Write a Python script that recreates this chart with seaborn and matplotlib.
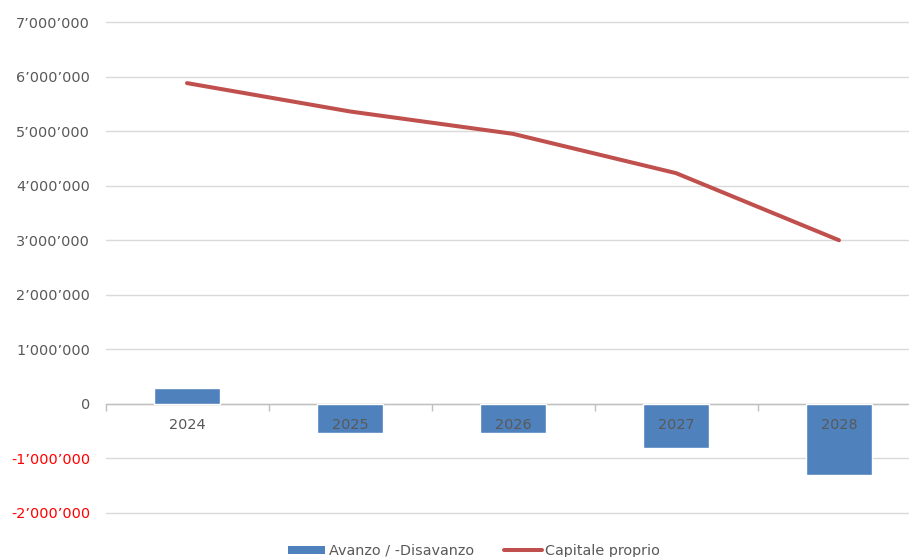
import numpy as np
import pandas as pd
import matplotlib
matplotlib.use("Agg")
import matplotlib.pyplot as plt
import seaborn as sns
from matplotlib.ticker import FuncFormatter, FixedLocator, MultipleLocator
from matplotlib.patches import Patch
from matplotlib.lines import Line2D

years = ["2024", "2025", "2026", "2027", "2028"]
avanzo = [300000, -530000, -540000, -810000, -1310000]
capitale = [5880000, 5360000, 4950000, 4230000, 3000000]
labels = ["Avanzo / -Disavanzo", "Capitale proprio"]

sns.set_theme(style="white")
plt.rcParams["font.family"] = ["DejaVu Sans"]

df = pd.DataFrame({"anno": years, "avanzo": avanzo, "capitale": capitale})

fig = plt.figure(figsize=(9.09, 5.57), dpi=100)
ax = fig.add_axes([105.5 / 909, 44 / 557, 815 / 909, 491 / 557])

bar_color = "#4F81BD"
line_color = "#C0504D"
grey = "#595959"
fs = 10.4

sns.barplot(data=df, x="anno", y="avanzo", color=bar_color, width=0.4,
            saturation=1, ax=ax, zorder=3)
sns.pointplot(data=df, x="anno", y="capitale", color=line_color, marker="",
              linewidth=2.9, errorbar=None, ax=ax, zorder=4)
for ln in ax.lines:
    ln.set_solid_capstyle("round")

ax.set_ylim(-2000000, 7000000)
ax.set_xlim(-0.5, len(years) - 0.5)
ax.yaxis.set_major_locator(MultipleLocator(1000000))

def fmt(v, pos):
    v = int(round(v))
    if v == 0:
        return "0"
    s = f"{abs(v):,}".replace(",", "\u2019")
    return ("-" if v < 0 else "") + s

ax.yaxis.set_major_formatter(FuncFormatter(fmt))
ax.grid(axis="y", color="#D9D9D9", linewidth=1.0)
ax.grid(axis="x", visible=False)
ax.set_axisbelow(True)
ax.xaxis.set_zorder(5)

for sp in ["top", "right", "left"]:
    ax.spines[sp].set_visible(False)
ax.spines["bottom"].set_position(("data", 0))
ax.spines["bottom"].set_color("#BFBFBF")
ax.spines["bottom"].set_linewidth(1.0)
ax.spines["bottom"].set_zorder(2)

ax.set_xlabel("")
ax.set_ylabel("")
ax.tick_params(axis="y", length=0, pad=11, labelsize=fs, labelcolor=grey)
for t, v in zip(ax.get_yticklabels(), ax.get_yticks()):
    if v < 0:
        t.set_color("#FF0000")

ax.xaxis.set_minor_locator(FixedLocator(np.arange(-0.5, len(years), 1.0)))
ax.tick_params(axis="x", which="major", length=0, pad=10, labelsize=fs, labelcolor=grey)
ax.tick_params(axis="x", which="minor", bottom=True, length=5, width=1, color="#BFBFBF", direction="out")

fig.canvas.draw()
for gl in ax.yaxis.get_gridlines():
    gl.set_clip_on(False)

handles = [Patch(facecolor=bar_color, edgecolor="none"),
           Line2D([0], [0], color=line_color, linewidth=2.9)]
fig.legend(handles, labels, loc="center", bbox_to_anchor=(474 / 909, 6 / 557),
           ncol=2, frameon=False, fontsize=fs, handlelength=2.6, handleheight=0.5,
           handletextpad=0.25, columnspacing=2.1, labelcolor=grey)

fig.savefig("out.png", dpi=100)
